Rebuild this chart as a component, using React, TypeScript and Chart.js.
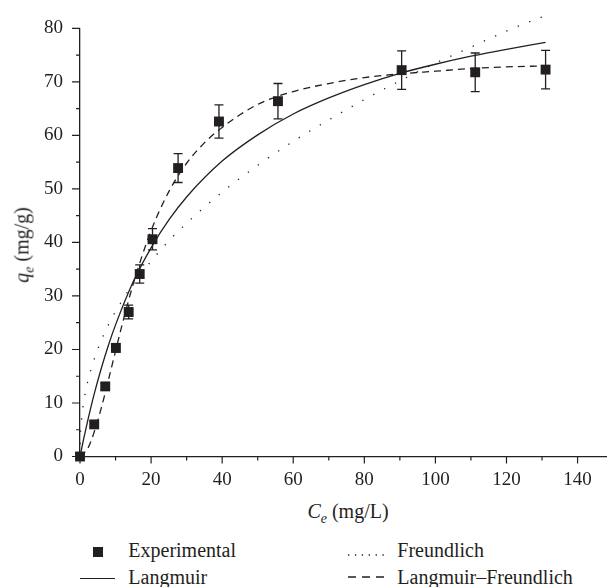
import React, { useEffect, useRef } from 'react';
import { Chart, registerables } from 'chart.js';

Chart.register(...registerables);

const INK = '#231f20';
const FONT = "'Liberation Serif', 'Times New Roman', serif";

// Experimental data (Ce in mg/L, qe in mg/g, error = ± mg/g)
const ceExp = [0, 4.0, 7.1, 10.1, 13.7, 16.8, 20.4, 27.6, 39.1, 55.7, 90.5, 111.2, 131.0];
const qeExp = [0, 6.0, 13.1, 20.3, 27.0, 34.1, 40.6, 53.9, 62.6, 66.4, 72.2, 71.8, 72.3];
const qeErr = [0.4, 0.5, 0.6, 0.8, 1.3, 1.7, 2.0, 2.7, 3.1, 3.3, 3.6, 3.6, 3.6];

// Langmuir fit curve
const langCe = [0, 1, 2, 4, 6, 8, 10, 15, 20, 25, 30, 40, 50, 60, 70, 80, 90, 100, 110, 120, 131];
const langQe = [0, 3.2, 6.2, 11.7, 16.5, 20.8, 24.6, 32.7, 39.0, 44.2, 48.5, 55.2, 60.1, 64.0, 67.0, 69.5, 71.6, 73.3, 74.8, 76.1, 77.4];

// Freundlich fit curve
const freuCe = [0, 0.1, 0.25, 0.5, 1, 2, 4, 6, 8, 10, 15, 20, 25, 30, 40, 50, 60, 70, 80, 90, 100, 110, 120, 131];
const freuQe = [0, 3.7, 5.5, 7.4, 10.0, 13.5, 18.2, 21.7, 24.6, 27.1, 32.3, 36.5, 40.3, 43.6, 49.4, 54.4, 58.9, 62.9, 66.7, 70.2, 73.5, 76.5, 79.5, 82.4];

// Langmuir–Freundlich fit curve
const lfCe = [0, 2, 3, 4, 6, 8, 10, 12, 15, 20, 25, 30, 35, 40, 50, 60, 70, 80, 90, 100, 110, 120, 131];
const lfQe = [0, 1.3, 2.7, 4.6, 9.1, 14.3, 19.7, 25.0, 32.3, 42.2, 49.5, 54.8, 58.6, 61.5, 65.8, 68.2, 69.7, 70.8, 71.5, 72.0, 72.5, 72.8, 73.0];

// Axis ticks
const xMajorTicks = [0, 20, 40, 60, 80, 100, 120, 140];
const xMinorTicks = [10, 30, 50, 70, 90, 110, 130];
const yMajorTicks = [0, 10, 20, 30, 40, 50, 60, 70, 80];
const yMinorTicks = [5, 15, 25, 35, 45, 55, 65, 75];
const X_MIN = 0;
const X_MAX = 148;
const Y_MIN = 0;
const Y_MAX = 80;

const toXY = (xs: number[], ys: number[]) => xs.map((x, i) => ({ x, y: ys[i] }));

const tickMarksPlugin = {
  id: 'tickMarks',
  afterDraw(chart: any) {
    const { ctx, chartArea, scales } = chart;
    const x = scales.x;
    const y = scales.y;
    ctx.save();
    ctx.strokeStyle = INK;
    ctx.lineWidth = 1.2;
    ctx.beginPath();
    const b = chartArea.bottom;
    const l = chartArea.left;
    xMajorTicks.forEach((v) => {
      const px = x.getPixelForValue(v);
      ctx.moveTo(px, b);
      ctx.lineTo(px, b + 7);
    });
    xMinorTicks.forEach((v) => {
      const px = x.getPixelForValue(v);
      ctx.moveTo(px, b);
      ctx.lineTo(px, b + 4);
    });
    yMajorTicks.forEach((v) => {
      const py = y.getPixelForValue(v);
      ctx.moveTo(l, py);
      ctx.lineTo(l - 8, py);
    });
    yMinorTicks.forEach((v) => {
      const py = y.getPixelForValue(v);
      ctx.moveTo(l, py);
      ctx.lineTo(l - 4, py);
    });
    ctx.stroke();
    ctx.restore();
  },
};

const errorBarsPlugin = {
  id: 'errorBars',
  afterDatasetsDraw(chart: any) {
    const { ctx, scales } = chart;
    const x = scales.x;
    const y = scales.y;
    ctx.save();
    ctx.strokeStyle = INK;
    ctx.lineWidth = 1.3;
    ctx.beginPath();
    ceExp.forEach((c, i) => {
      const px = x.getPixelForValue(c);
      const top = y.getPixelForValue(qeExp[i] + qeErr[i]);
      const bot = y.getPixelForValue(qeExp[i] - qeErr[i]);
      ctx.moveTo(px, top);
      ctx.lineTo(px, bot);
      ctx.moveTo(px - 4.5, top);
      ctx.lineTo(px + 4.5, top);
      ctx.moveTo(px - 4.5, bot);
      ctx.lineTo(px + 4.5, bot);
    });
    ctx.stroke();
    ctx.restore();
  },
};

export default function App() {
  const ref = useRef<HTMLCanvasElement | null>(null);

  useEffect(() => {
    if (!ref.current) return;
    const chart = new Chart(ref.current, {
      type: 'scatter',
      data: {
        datasets: [
          {
            label: 'Experimental',
            data: toXY(ceExp, qeExp),
            pointStyle: 'rect',
            pointRadius: 7,
            pointBackgroundColor: INK,
            pointBorderColor: INK,
            pointBorderWidth: 0,
            backgroundColor: INK,
            showLine: false,
            clip: false,
          } as any,
          {
            label: 'Langmuir',
            data: toXY(langCe, langQe),
            showLine: true,
            pointRadius: 0,
            borderColor: INK,
            borderWidth: 1.3,
            cubicInterpolationMode: 'monotone',
            clip: false,
          } as any,
          {
            label: 'Freundlich',
            data: toXY(freuCe, freuQe),
            showLine: true,
            pointRadius: 0,
            borderColor: INK,
            borderWidth: 1.3,
            borderDash: [1.3, 11],
            cubicInterpolationMode: 'monotone',
            clip: false,
          } as any,
          {
            label: 'Langmuir–Freundlich',
            data: toXY(lfCe, lfQe),
            showLine: true,
            pointRadius: 0,
            borderColor: INK,
            borderWidth: 1.3,
            borderDash: [7, 5],
            cubicInterpolationMode: 'monotone',
            clip: false,
          } as any,
        ],
      },
      options: {
        animation: false,
        responsive: false,
        events: [],
        layout: { padding: { top: 20, right: 1, left: 0, bottom: 0 } },
        plugins: { legend: { display: false }, tooltip: { enabled: false } },
        scales: {
          x: {
            type: 'linear',
            position: 'bottom',
            min: X_MIN,
            max: X_MAX,
            afterBuildTicks: (s: any) => {
              s.ticks = xMajorTicks.map((v) => ({ value: v }));
            },
            afterFit: (s: any) => {
              s.height = 43.5;
            },
            grid: { display: false, drawTicks: false },
            border: { display: true, color: INK, width: 1.3 },
            ticks: {
              color: INK,
              font: { family: FONT, size: 19 },
              padding: 12,
              maxRotation: 0,
              autoSkip: false,
            },
          },
          y: {
            type: 'linear',
            min: Y_MIN,
            max: Y_MAX,
            afterBuildTicks: (s: any) => {
              s.ticks = yMajorTicks.map((v) => ({ value: v }));
            },
            afterFit: (s: any) => {
              s.width = 80;
            },
            grid: { display: false, drawTicks: false },
            border: { display: true, color: INK, width: 1.3 },
            ticks: {
              color: INK,
              font: { family: FONT, size: 19 },
              padding: 17,
              autoSkip: false,
            },
          },
        },
      } as any,
      plugins: [tickMarksPlugin, errorBarsPlugin],
    });
    return () => chart.destroy();
  }, []);

  const textBase: React.CSSProperties = {
    position: 'absolute',
    fontSize: 20,
    lineHeight: '20px',
    whiteSpace: 'nowrap',
    fontFamily: FONT,
    color: INK,
  };
  const sub: React.CSSProperties = {
    fontSize: 14,
    fontStyle: 'italic',
    position: 'relative',
    top: 5,
  };

  return (
    <div
      style={{
        position: 'fixed',
        left: 0,
        top: 0,
        width: 613,
        height: 587,
        background: '#fff',
        overflow: 'hidden',
      }}
    >
      <canvas ref={ref} width={613} height={500} style={{ position: 'absolute', left: 0, top: 0 }} />

      {/* Axis titles */}
      <div style={{ ...textBase, left: 348, top: 501, transform: 'translateX(-50%)' }}>
        <i>C</i>
        <span style={sub}>e</span> (mg/L)
      </div>
      <div
        style={{
          ...textBase,
          left: 23,
          top: 245,
          transform: 'translate(-50%, -50%) rotate(-90deg)',
        }}
      >
        <i>q</i>
        <span style={sub}>e</span> (mg/g)
      </div>

      {/* Legend */}
      <div style={{ position: 'absolute', left: 93.3, top: 547.3, width: 9.4, height: 9.4, background: INK }} />
      <div style={{ ...textBase, left: 128.3, top: 540 }}>Experimental</div>

      <div style={{ position: 'absolute', left: 80, top: 577.6, width: 35, height: 1.3, background: INK }} />
      <div style={{ ...textBase, left: 128.3, top: 566.5 }}>Langmuir</div>

      <svg style={{ position: 'absolute', left: 348, top: 552 }} width={37} height={6}>
        <line x1={0} y1={3} x2={37} y2={3} stroke={INK} strokeWidth={1.3} strokeDasharray="1.3 5.6" />
      </svg>
      <div style={{ ...textBase, left: 397.3, top: 540 }}>Freundlich</div>

      <svg style={{ position: 'absolute', left: 348, top: 574.3 }} width={37} height={6}>
        <line x1={0} y1={3} x2={37} y2={3} stroke={INK} strokeWidth={1.3} strokeDasharray="8 6" />
      </svg>
      <div style={{ ...textBase, left: 397.3, top: 566.5 }}>Langmuir–Freundlich</div>
    </div>
  );
}
